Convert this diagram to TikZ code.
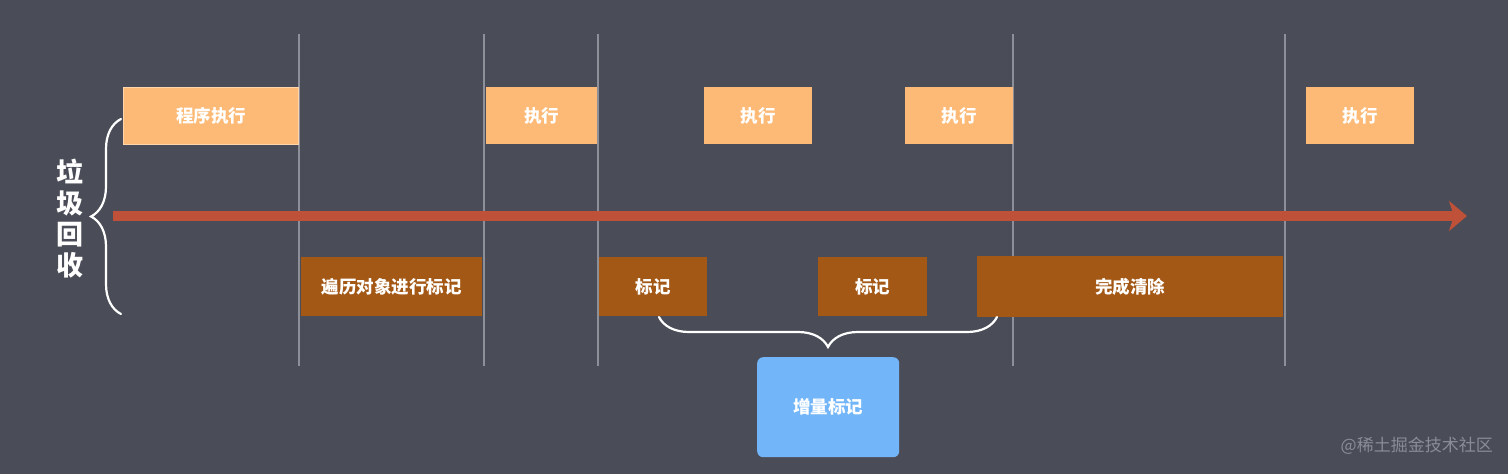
\documentclass[tikz,border=0pt]{standalone}
\usepackage{fontspec}
\newfontfamily\cjk{Noto Sans CJK SC}
\usetikzlibrary{arrows.meta,decorations.pathreplacing}
\definecolor{bgc}{HTML}{4A4C57}
\definecolor{vlinec}{HTML}{8E9099}
\definecolor{topc}{HTML}{FDBA77}
\definecolor{botc}{HTML}{A45816}
\definecolor{arrc}{HTML}{BF5138}
\definecolor{bluec}{HTML}{72B6F9}
\definecolor{wmc}{HTML}{8A8C96}
\tikzset{
  boxfont/.style={font=\cjk\fontsize{17.5}{20}\selectfont\bfseries},
  topbox/.style={fill=topc, anchor=north west, inner sep=0pt, minimum height=57pt, text=white, boxfont},
  botbox/.style={fill=botc, anchor=north west, inner sep=0pt, minimum height=59pt, text=white, boxfont},
  vline/.style={draw=vlinec, line width=1.2pt},
  bracestyle/.style={draw=white, line width=2.2pt, line cap=round, decorate}
}
\begin{document}
\begin{tikzpicture}[x=1pt,y=-1pt]
\fill[bgc] (0,0) rectangle (1508,474);
\useasboundingbox (0,0) rectangle (1508,474);
% vertical lines
\foreach \xx/\nm in {299/v1,484/v2,598/v3,1013/v4,1285/v5}{
  \coordinate (\nm t) at (\xx,34);
  \coordinate (\nm b) at (\xx,366);
  \draw[vline] (\nm t) -- (\nm b);
}
% arrow
\coordinate (as) at (113,216);
\coordinate (ae) at (1467,216);
\draw[arrc, line width=10pt, -{Stealth[length=18pt,width=30pt,inset=5pt]}] (as) -- (ae);
% top boxes
\node[topbox, draw={rgb,255:red,253;green,214;blue,172}, line width=1pt, minimum width=175pt] (p0) at (123,87) {程序执行};
\node[topbox, minimum width=111pt] (p1) at (486,87) {执行};
\node[topbox, minimum width=108pt] (p2) at (704,87) {执行};
\node[topbox, minimum width=108pt] (p3) at (905,87) {执行};
\node[topbox, minimum width=108pt] (p4) at (1306,87) {执行};
% bottom boxes
\node[botbox, minimum width=181pt] (g0) at (301,257) {遍历对象进行标记};
\node[botbox, minimum width=108pt] (g1) at (599,257) {标记};
\node[botbox, minimum width=109pt] (g2) at (818,257) {标记};
\node[botbox, minimum width=306pt, minimum height=61pt] (g3) at (977,256) {完成清除};
% left brace
\coordinate (lb1) at (121,314);
\coordinate (lb2) at (121,119);
\draw[bracestyle, decoration={brace, amplitude=30pt}] (lb1) -- (lb2);
\node[text=white, font=\cjk\fontsize{27}{31}\selectfont\bfseries, align=center, inner sep=0pt] (gc) at (70,219) {垃\\圾\\回\\收};
% lower brace
\coordinate (bb1) at (997,317);
\coordinate (bb2) at (659,317);
\draw[bracestyle, decoration={brace, amplitude=30pt}] (bb1) -- (bb2);
% blue box
\node[fill=bluec, rounded corners=6pt, anchor=north west, inner sep=0pt, minimum width=142pt, minimum height=100pt, text=white, boxfont] (inc) at (757,357) {增量标记};
% watermark
\node[text=wmc, font=\cjk\fontsize{17}{20}\selectfont, anchor=east, inner sep=0pt] (wm) at (1493,446) {@稀土掘金技术社区};
\end{tikzpicture}
\end{document}
